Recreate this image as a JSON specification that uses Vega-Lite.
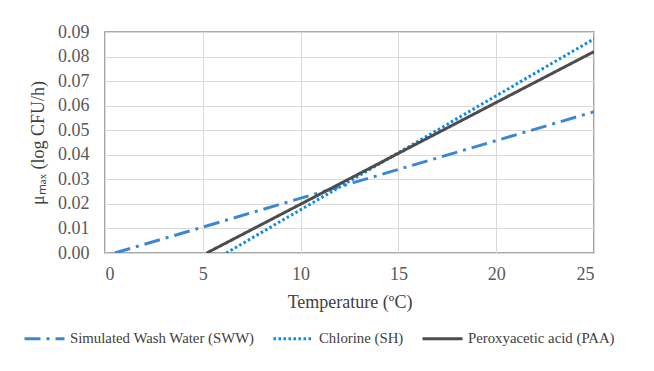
{
  "$schema": "https://vega.github.io/schema/vega-lite/v6.json",
  "autosize": {"type": "none"},
  "padding": {"left": 105, "top": 32, "right": 60, "bottom": 118},
  "width": 489,
  "height": 221,
  "background": "white",
  "config": {
    "view": {"stroke": "#8c8c8c", "strokeWidth": 1.5},
    "font": "Liberation Serif",
    "axis": {
      "labelFont": "Liberation Serif", "labelFontSize": 18, "labelColor": "#595959",
      "titleFont": "Liberation Serif", "titleFontSize": 18, "titleFontWeight": "normal", "titleColor": "#404040"
    },
    "legend": {"labelFont": "Liberation Serif", "labelFontSize": 14.8, "labelColor": "#404040", "labelLimit": 400}
  },
  "data": {
    "values": [
      {"series": "Simulated Wash Water (SWW)", "temp": 0.5, "mu": 0.0},
      {"series": "Simulated Wash Water (SWW)", "temp": 25, "mu": 0.0575},
      {"series": "Chlorine (SH)", "temp": 6.2, "mu": 0.0},
      {"series": "Chlorine (SH)", "temp": 25, "mu": 0.0872},
      {"series": "Peroxyacetic acid (PAA)", "temp": 5.2, "mu": 0.0},
      {"series": "Peroxyacetic acid (PAA)", "temp": 25, "mu": 0.082}
    ]
  },
  "mark": {"type": "line", "strokeWidth": 3, "clip": true},
  "encoding": {
    "x": {
      "field": "temp", "type": "quantitative",
      "scale": {"domain": [0, 25], "nice": false},
      "axis": {
        "values": [0, 5, 10, 15, 20, 25],
        "title": "Temperature (ºC)",
        "titlePadding": 10,
        "labelPadding": 12,
        "ticks": false, "domain": false,
        "gridColor": "#d9d9d9", "gridWidth": 1
      }
    },
    "y": {
      "field": "mu", "type": "quantitative",
      "scale": {"domain": [0, 0.09], "nice": false},
      "axis": {
        "values": [0, 0.01, 0.02, 0.03, 0.04, 0.05, 0.06, 0.07, 0.08, 0.09],
        "format": ".2f",
        "title": "μₘₐₓ (log CFU/h)",
        "titlePadding": 10,
        "labelPadding": 16,
        "ticks": false, "domain": false,
        "gridColor": "#d9d9d9", "gridWidth": 1
      }
    },
    "color": {
      "field": "series", "type": "nominal",
      "scale": {
        "domain": ["Simulated Wash Water (SWW)", "Chlorine (SH)", "Peroxyacetic acid (PAA)"],
        "range": ["#3a87d4", "#0a8ae6", "#4d4d4d"]
      },
      "legend": {
        "title": null,
        "orient": "none",
        "legendX": -82,
        "legendY": 285,
        "direction": "horizontal",
        "symbolType": "stroke",
        "symbolSize": 1600,
        "symbolStrokeWidth": 3,
        "columnPadding": 12,
        "labelOffset": 4
      }
    },
    "strokeDash": {
      "field": "series", "type": "nominal",
      "scale": {
        "domain": ["Simulated Wash Water (SWW)", "Chlorine (SH)", "Peroxyacetic acid (PAA)"],
        "range": [[16, 6, 3, 6], [2.5, 2.5], [1, 0]]
      },
      "legend": {
        "title": null,
        "orient": "none",
        "legendX": -82,
        "legendY": 285,
        "direction": "horizontal",
        "symbolType": "stroke",
        "symbolSize": 1600,
        "symbolStrokeWidth": 3,
        "columnPadding": 12,
        "labelOffset": 4
      }
    }
  }
}
